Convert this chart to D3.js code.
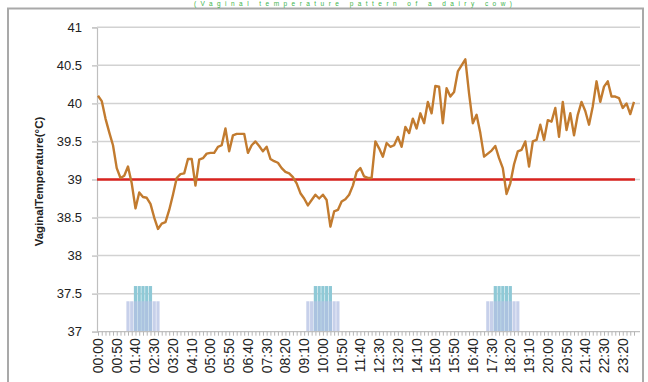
<!DOCTYPE html>
<html>
<head>
<meta charset="utf-8">
<script src="https://cdn.jsdelivr.net/npm/d3@7"></script>
<style>
  html, body { margin: 0; padding: 0; background: #fff; }
  svg { display: block; }
</style>
</head>
<body>
<svg id="chart" width="648" height="382"></svg>
<script>
// ---- DATA ----
const chartTitle = "(Vaginal temperature pattern of a dairy cow)";
const yAxisTitle = "VaginalTemperature(°C)";
const yTicks = [37, 37.5, 38, 38.5, 39, 39.5, 40, 40.5, 41];
const thresholdValue = 39;

// 10-minute readings across one day (00:00 … 23:50)
const times = d3.range(144).map(i => {
  const h = Math.floor(i / 6), m = (i % 6) * 10;
  return String(h).padStart(2, "0") + ":" + String(m).padStart(2, "0");
});
const xLabelEvery = 5; // 00:00, 00:50, 01:40, ...

const temperature = [
  40.10, 40.03, 39.80, 39.62, 39.45, 39.15, 39.02, 39.05, 39.17, 38.95,
  38.62, 38.83, 38.77, 38.76, 38.68, 38.50, 38.35, 38.42, 38.44, 38.60,
  38.80, 39.02, 39.07, 39.08, 39.27, 39.27, 38.92, 39.26, 39.28, 39.34,
  39.35, 39.35, 39.43, 39.45, 39.67, 39.37, 39.58, 39.60, 39.60, 39.60,
  39.35, 39.45, 39.50, 39.44, 39.37, 39.43, 39.27, 39.24, 39.22, 39.15,
  39.10, 39.08, 39.03, 38.95, 38.82, 38.75, 38.66, 38.73, 38.80, 38.75,
  38.80, 38.73, 38.38, 38.58, 38.60, 38.71, 38.74, 38.80, 38.92, 39.10,
  39.15, 39.04, 39.02, 39.02, 39.50, 39.41, 39.30, 39.48, 39.43, 39.45,
  39.56, 39.43, 39.69, 39.61, 39.80, 39.67, 39.87, 39.74, 40.02, 39.87,
  40.23, 40.22, 39.74, 40.20, 40.09, 40.15, 40.42, 40.50, 40.58, 40.13,
  39.74, 39.85, 39.61, 39.30, 39.34, 39.38, 39.44, 39.28, 39.15, 38.81,
  38.95, 39.20, 39.37, 39.39, 39.50, 39.17, 39.50, 39.52, 39.72, 39.52,
  39.78, 39.76, 39.94, 39.56, 40.02, 39.65, 39.87, 39.58, 39.85, 40.02,
  39.90, 39.72, 39.96, 40.29, 40.02, 40.22, 40.29, 40.09, 40.09, 40.07,
  39.94, 40.00, 39.86, 40.02
];

// activity (mounting) markers drawn as columns
const activityLowTimes = ["01:20","01:30","01:40","01:50","02:00","02:10","02:20","02:30","02:40",
                          "09:20","09:30","09:40","09:50","10:00","10:10","10:20","10:30","10:40",
                          "17:20","17:30","17:40","17:50","18:00","18:10","18:20","18:30","18:40"];
const activityLowValue = 37.4;
const activityHighTimes = ["01:40","01:50","02:00","02:10","02:20",
                           "09:40","09:50","10:00","10:10","10:20",
                           "17:40","17:50","18:00","18:10","18:20"];
const activityHighValue = 37.6;

// ---- DRAW ----
const svg = d3.select("#chart");
const plot = { left: 97, right: 640, top: 27.3, bottom: 331.7 };
const xStart = 98, xEnd = 634;

const x = d3.scalePoint().domain(times).range([xStart, xEnd]);
const y = d3.scaleLinear().domain([37, 41]).range([plot.bottom, plot.top]);

// outer frame
svg.append("rect").attr("x", 8).attr("y", 8.5).attr("width", 635).attr("height", 390)
  .attr("fill", "#fff").attr("stroke", "#a9a9a9").attr("stroke-width", 2);

// title (small, squeezed into the strip above the frame)
svg.append("text").attr("x", 194).attr("y", 5.5)
  .attr("font-family", "Liberation Sans, Arial, sans-serif").attr("font-size", 6.5)
  .attr("textLength", 318).attr("lengthAdjust", "spacing")
  .attr("fill", "#3cb44b").text(chartTitle);

// gridlines + y ticks
const yAxis = d3.axisLeft(y).tickValues(yTicks).tickSize(5)
  .tickFormat(d => d3.format("")(d));
const gy = svg.append("g").attr("transform", `translate(${plot.left},0)`).call(yAxis);
gy.select(".domain").attr("stroke", "#bfbfbf").attr("stroke-width", 1.2);
gy.selectAll(".tick line").attr("stroke", "#c8c8c8").attr("stroke-width", 1.5);
gy.selectAll(".tick text").attr("x", -15)
  .attr("font-family", "Liberation Sans, Arial, sans-serif").attr("font-size", 13)
  .attr("fill", "#222");

svg.append("g").selectAll("line").data(yTicks.filter(d => d > 37)).join("line")
  .attr("x1", plot.left).attr("x2", plot.right)
  .attr("y1", d => y(d)).attr("y2", d => y(d))
  .attr("stroke", "#d2d2d2").attr("stroke-width", 1.5);

// y axis title
svg.append("text")
  .attr("transform", `translate(43,${(plot.top + plot.bottom) / 2 + 2}) rotate(-90)`)
  .attr("text-anchor", "middle")
  .attr("font-family", "Liberation Sans, Arial, sans-serif").attr("font-size", 11.5)
  .attr("font-weight", "bold").attr("fill", "#222").text(yAxisTitle);

// activity columns
const barW = 3.2;
svg.append("g").selectAll("rect").data(activityHighTimes).join("rect")
  .attr("x", d => x(d) - barW / 2).attr("width", barW)
  .attr("y", y(activityHighValue)).attr("height", y(37) - y(activityHighValue))
  .attr("fill", "#8fc9d6");
svg.append("g").selectAll("rect").data(activityLowTimes).join("rect")
  .attr("x", d => x(d) - barW / 2).attr("width", barW)
  .attr("y", y(activityLowValue)).attr("height", y(37) - y(activityLowValue))
  .attr("fill", "#b4c0e3").attr("opacity", 0.75);

// x axis
const xAxis = d3.axisBottom(x).tickSize(4).tickFormat("");
const gx = svg.append("g").attr("transform", `translate(0,${plot.bottom})`).call(xAxis);
gx.select(".domain").attr("d", `M${plot.left},0H${plot.right}`).attr("stroke", "#bfbfbf").attr("stroke-width", 1.3);
gx.selectAll(".tick line").attr("stroke", "#b5b5b5");

svg.append("g").selectAll("text").data(times.filter((d, i) => i % xLabelEvery === 0)).join("text")
  .attr("transform", d => `translate(${x(d) + 5},${plot.bottom + 6.5}) rotate(-90)`)
  .attr("text-anchor", "end")
  .attr("font-family", "Liberation Sans, Arial, sans-serif").attr("font-size", 14)
  .attr("fill", "#222").text(d => d);

// threshold line
svg.append("line")
  .attr("x1", plot.left).attr("x2", xEnd + 1)
  .attr("y1", y(thresholdValue)).attr("y2", y(thresholdValue))
  .attr("stroke", "#d9231f").attr("stroke-width", 2.5);

// temperature line
svg.append("path").datum(temperature)
  .attr("d", d3.line().x((d, i) => x(times[i])).y(d => y(d)))
  .attr("fill", "none").attr("stroke", "#c27b2f").attr("stroke-width", 2.4)
  .attr("stroke-linejoin", "round");
</script>
</body>
</html>
